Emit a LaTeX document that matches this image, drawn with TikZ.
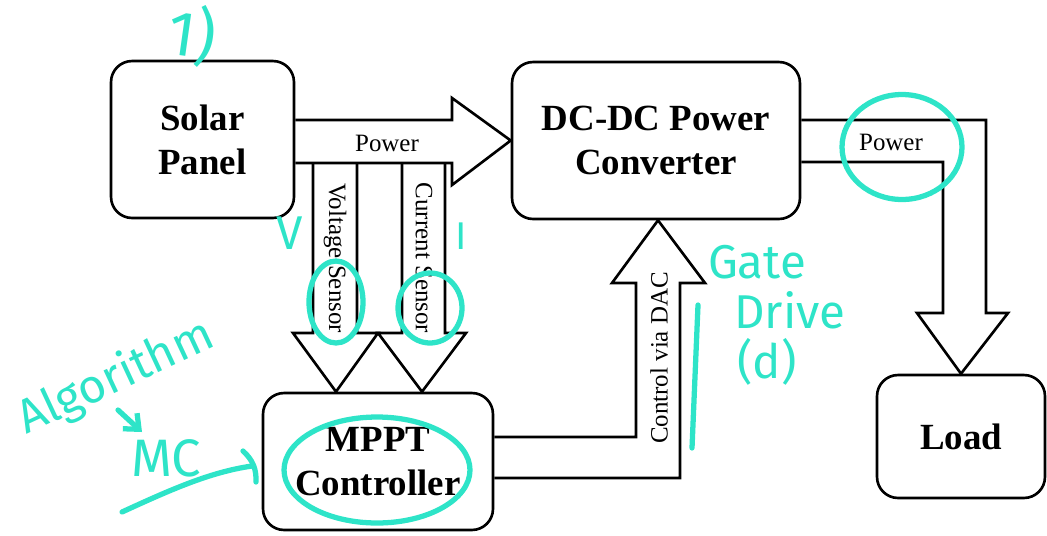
\documentclass[tikz,border=0pt]{standalone}
\usepackage{fontspec}
\setmainfont{Liberation Serif}
\newfontfamily\handfont{Fira Sans}
\usetikzlibrary{arrows.meta}
\definecolor{ink}{RGB}{46,228,200}

\begin{document}
\begin{tikzpicture}[x=0.02cm,y=-0.02cm,
    box/.style={draw,line width=1.5pt,rounded corners=12pt,align=center,
      font=\fontsize{21}{25}\selectfont\bfseries},
    blockarrow/.style={line width=1.5pt,line join=miter},
    lbl/.style={font=\fontsize{14.2}{17}\selectfont},
    hand/.style={ink,line width=3pt,line cap=round},
    note/.style={text=ink,inner sep=0pt,font=\handfont\fontsize{27}{30}\selectfont}]
  \useasboundingbox (0,0) rectangle (1047,535);

  % blocks
  \node[box,minimum width=3.66cm,minimum height=3.14cm] (solar) at (202.5,139.5) {Solar\\Panel};
  \node[box,minimum width=5.76cm,minimum height=3.14cm] (dcdc) at (656,140.5) {DC-DC Power\\Converter};
  \node[box,minimum width=4.6cm,minimum height=2.74cm] (mppt) at (378,461.5) {MPPT\\Controller};
  \node[box,minimum width=3.36cm,minimum height=2.46cm] (load) at (961,436.5) {Load};

  % block arrows
  \draw[blockarrow] (solar.east |- 0,120) -- (452,120) -- (452,98) -- (dcdc.west)
    -- (452,185) -- (452,163) -- (solar.east |- 0,163);
  \draw[blockarrow] (313,163) -- (313,333) -- (293,333) -- (336,0 |- mppt.north)
    -- (378,333) -- (357,333) -- (357,163);
  \draw[blockarrow] (402,163) -- (402,333) -- (378,333) -- (422,0 |- mppt.north)
    -- (466,333) -- (445,333) -- (445,163);
  \draw[blockarrow] (mppt.east |- 0,478) -- (680,478) -- (680,283) -- (705,283)
    -- (658,0 |- dcdc.south) -- (612,283) -- (636,283) -- (636,437) -- (mppt.east |- 0,437);
  \draw[blockarrow] (dcdc.east |- 0,120) -- (986,120) -- (986,313) -- (1008,313)
    -- (load.north) -- (917,313) -- (943,313) -- (943,162) -- (dcdc.east |- 0,162);

  % arrow labels
  \node[lbl] (pin) at (387,143) {Power};
  \node[lbl] (pout) at (891,142) {Power};
  \node[lbl,rotate=-90] (vsens) at (335,258) {Voltage Sensor};
  \node[lbl,rotate=-90] (isens) at (424,258) {Current Sensor};
  \node[lbl,rotate=90] (dac) at (659,358) {Control via DAC};

  % hand notes
  \node[note,font=\handfont\fontsize{36}{40}\selectfont,rotate=-8] (one) at (192,35) {1)};
  \node[note] (volt) at (290,233) {V};
  \node[note,font=\handfont\fontsize{22}{26}\selectfont] (amp) at (461,236) {I};
  \node[note] (gate) at (757,262) {Gate};
  \node[note] (drive) at (790,310) {Drive};
  \node[note] (duty) at (767,362) {(d)};
  \node[note,rotate=25] (algo) at (116,378) {Algorithm};
  \node[note,font=\handfont\fontsize{30}{34}\selectfont] (mc) at (166,458) {MC};

  \draw[hand,-{Straight Barb[length=7pt,width=12pt]}] (118,410) -- (142,432);
  \draw[hand] (122,512) .. controls (170,490) and (210,472) .. (252,466);
  \draw[hand] (243,451) to[bend left=25] (256,482);
  \draw[hand] (698,305) -- (692,448);
  \draw[hand] (336,302) ellipse [x radius=0.54cm, y radius=0.82cm];
  \draw[hand] (430,308) ellipse [x radius=0.64cm, y radius=0.7cm];
  \draw[hand] (902,147) ellipse [x radius=1.2cm, y radius=1.05cm];
  \draw[hand] (377,470) ellipse [x radius=1.86cm, y radius=1.06cm];
\end{tikzpicture}
\end{document}
